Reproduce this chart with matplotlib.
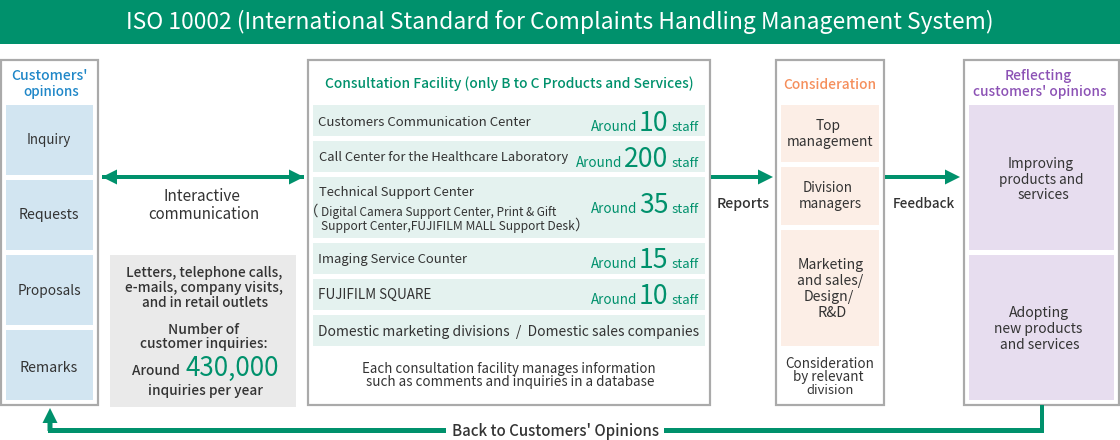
import matplotlib
matplotlib.use("Agg")
import matplotlib.pyplot as plt
from matplotlib.patches import Rectangle, FancyArrow

plt.rcParams['font.family'] = ['Noto Sans CJK JP', 'DejaVu Sans']

title = "ISO 10002 (International Standard for Complaints Handling Management System)"
opinion_cells = ["Inquiry", "Requests", "Proposals", "Remarks"]
facility_rows = ["Customers Communication Center", "Call Center for the Healthcare Laboratory",
                 "Technical Support Center", "Imaging Service Counter", "FUJIFILM SQUARE",
                 "Domestic marketing divisions  /  Domestic sales companies"]
staff_counts = ["10", "200", "35", "15", "10"]
inquiries = "430,000"

GREEN = "#00916C"; DARK = "#333333"; BORDER = "#AAAAAA"

fig = plt.figure(figsize=(11.2, 4.4), dpi=100)
ax = fig.add_axes([0, 0, 1, 1])
ax.set_xlim(0, 1120); ax.set_ylim(440, 0); ax.axis("off")
renderer = fig.canvas.get_renderer()


def T(x, y, s, width=None, px=15, color=DARK, ha="center", weight="normal"):
    """Baseline-anchored text; if width is given, the size is fitted to it (px)."""
    t = ax.text(x, y, s, fontsize=px * 0.72, color=color, ha=ha, va="baseline", weight=weight, zorder=5)
    if width:
        w = t.get_window_extent(renderer).width
        t.set_fontsize(t.get_fontsize() * width / w)
    return t


def R(x0, y0, x1, y1, fc, ec="none", lw=0, z=1):
    ax.add_patch(Rectangle((x0, y0), x1 - x0, y1 - y0, fc=fc, ec=ec, lw=lw, zorder=z))


def box(x0, y0, x1, y1):
    R(x0, y0, x1, y1, "white", BORDER, 2.2 * 0.72, 1)


def arrow(x, y, dx, dy, w=4):
    ax.add_patch(FancyArrow(x, y, dx, dy, width=w, head_width=15, head_length=15,
                            length_includes_head=True, color=GREEN, lw=0, zorder=4))


# header
R(0, 0, 1120, 44, GREEN)
T(560, 29.5, title, width=864, color="white")

# boxes
box(1, 60, 98, 405); box(308, 60, 710, 405); box(776, 60, 884, 405); box(964, 60, 1119, 405)

# left column
T(49.5, 80, "Customers'", width=76, color="#1F87C8", weight="medium")
T(51, 96, "opinions", width=56, color="#1F87C8", weight="medium")
cell_y = [(105, 175), (180, 250), (255, 325), (330, 400)]
cell_base = [144, 219, 295, 372]
for label, (a, b), base, w in zip(opinion_cells, cell_y, cell_base, [44, 60, 63, 58]):
    R(6, a, 93, b, "#D2E5F1", z=2)
    T(49, base, label, width=w)

# middle column
T(509, 88, "Consultation Facility (only B to C Products and Services)", width=368, color=GREEN, weight="medium")
row_y = [(105, 136), (141, 172), (177, 238), (243, 274), (279, 310), (315, 346)]
for a, b in row_y:
    R(313, a, 705, b, "#E4F2EF", z=2)
label_base = [126, 161, 196, 263, 299]
label_x = [318, 319, 319, 318, 318]
for label, x, base, w in zip(facility_rows[:5], label_x, label_base, [212, 250, 155, 149, 113]):
    T(x, base, label, width=w, ha="left")
T(318, 336, facility_rows[5], width=379, ha="left")
T(304, 216, "（", px=14.5, ha="left")
T(321, 216, "Digital Camera Support Center, Print & Gift", width=235, ha="left")
T(321, 230, "Support Center,FUJIFILM MALL Support Desk", width=252, ha="left")
T(574, 230, "）", px=14.5, ha="left")

staff_base = [131, 167, 213, 268, 304]
for n, base in zip(staff_counts, staff_base):
    T(698.5, base, "staff", width=27, color=GREEN, ha="right")
    num = T(668.5, base, n, px=26.5, color=GREEN, ha="right")
    left = ax.transData.inverted().transform(num.get_window_extent(renderer))[0][0]
    T(left - 2, base, "Around", width=46, color=GREEN, ha="right")

T(509, 373, "Each consultation facility manages information", width=292)
T(510, 386, "such as comments and inquiries in a database", width=287)

# interactive arrow and text
arrow(102, 177, 202, 0)
arrow(304, 177, -202, 0)
T(202, 201, "Interactive", width=77)
T(204, 219, "communication", width=111)

# gray box
R(110, 255, 296, 407, "#EAEAEA")
T(204, 277, "Letters, telephone calls,", width=156, weight="medium")
T(204, 292, "e-mails, company visits,", width=157, weight="medium")
T(205, 307, "and in retail outlets", width=126, weight="medium")
T(204, 334, "Number of", width=71, weight="medium")
T(204, 348, "customer inquiries:", width=127, weight="medium")
T(180, 375, "Around", width=48, ha="right", weight="medium")
T(186, 376, inquiries, width=94, color=GREEN, ha="left")
T(206, 395, "inquiries per year", width=114, weight="medium")

# arrows to the right
arrow(711, 177, 62, 0)
arrow(885, 177, 75, 0)
T(743, 208, "Reports", width=53, weight="medium")
T(924, 208, "Feedback", width=62, weight="medium")

# consideration
T(829.5, 89, "Consideration", width=93, color="#F58F5C", weight="medium")
for a, b in [(105, 162), (167, 225), (230, 346)]:
    R(781, a, 879, b, "#FCEEE6", z=2)
for x, y, s, w in [(828, 130, "Top", 25), (830, 146, "management", 86), (828, 192, "Division", 50),
                   (830, 208, "managers", 63), (831, 269, "Marketing", 66), (830, 285, "and sales/", 66),
                   (829, 301, "Design/", 50), (832, 317, "R&D", 29)]:
    T(x, y, s, width=w)
T(829.5, 368, "Consideration", width=88)
T(828, 381, "by relevant", width=70)
T(830, 394, "division", width=47)

# reflecting
T(1038, 80, "Reflecting", width=67, color="#8C52B5", weight="medium")
T(1040, 96, "customers' opinions", width=133, color="#8C52B5", weight="medium")
for a, b in [(105, 250), (255, 400)]:
    R(969, a, 1114, b, "#E7DDEF", z=2)
for x, y, s, w in [(1041, 168, "Improving", 66), (1041, 184, "products and", 84), (1043, 199, "services", 51),
                   (1039, 317, "Adopting", 60), (1038, 333, "new products", 88), (1040, 349, "and services", 79)]:
    T(x, y, s, width=w)

# return arrow
R(1039.5, 405, 1043.5, 433, GREEN, z=3)
R(48, 428, 1043.5, 433, GREEN, z=3)
arrow(50, 431, 0, -23, w=5)
R(446, 420, 664, 440, "white", z=4)
T(555, 436, "Back to Customers' Opinions", width=207, weight="medium")

fig.savefig("out.png", dpi=100)
